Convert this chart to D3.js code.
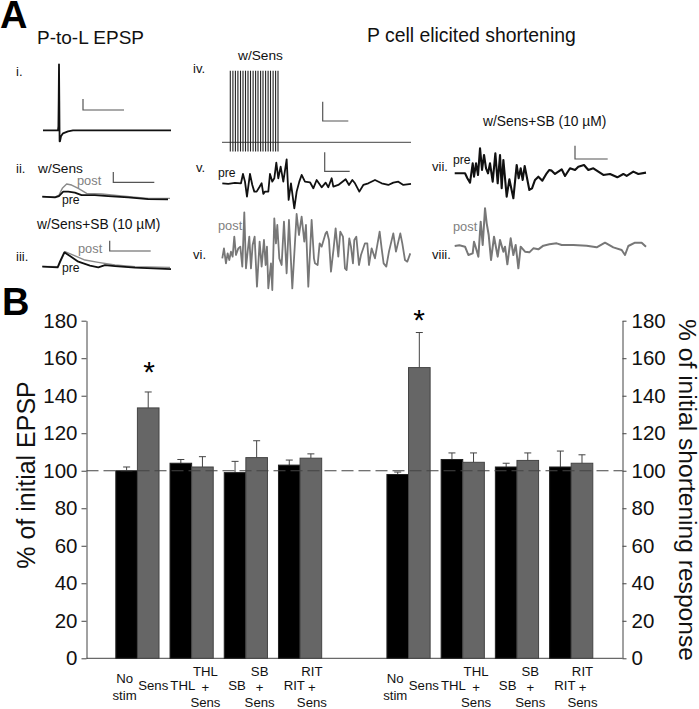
<!DOCTYPE html>
<html><head><meta charset="utf-8">
<script src="https://cdnjs.cloudflare.com/ajax/libs/d3/7.8.5/d3.min.js"></script>
<style>html,body{margin:0;background:#fff}svg{display:block}text{font-family:"Liberation Sans",Arial,sans-serif}</style>
</head><body><script>
// ---- Panel B data ----
const categories = ["No stim","Sens","THL","THL + Sens","SB","SB + Sens","RIT","RIT + Sens"];
const epspBlack = [100,104,99,103];
const epspGray = [133.5,102,107,106.7];
const epspBlackTop = [102,106,105,105.7];
const epspGrayTop = [142,107.5,116,109];
const shortBlack = [98,106,102,102];
const shortGray = [155,104.5,105.5,104];
const shortBlackTop = [99.3,109.5,104,110.5];
const shortGrayTop = [173.7,109.5,109.5,108.5];
const yTicks = [0,20,40,60,80,100,120,140,160,180];
const slots = ["a0","a1","a2","a3","gap","b0","b1","b2","b3"];

// ---- Panel A traces: [time, amplitude] in arbitrary units ----
const traceI = [[0,0],[15,0],[15.4,4],[15.7,30],[16,66],[16.3,30],[16.6,-11],[17,-11],[18,-6],[20,-3],[25,-1],[30,0],[128,0]];
const traceIIpre = [[22,0],[60,-2],[72,2],[85,15],[100,15],[120,12],[140,5],[180,5],[220,2],[280,-2],[340,-7],[400,-8]];
const traceIIpost = [[22,0],[60,-1],[72,5],[82,25],[95,38],[110,35],[130,25],[155,10],[200,8],[260,2],[340,-5],[405,-5]];
const traceIIIpre = [[22,0],[68,-2],[75,15],[88,43],[105,32],[130,15],[165,3],[190,-2],[210,5],[240,2],[300,-3],[408,-7]];
const traceIIIpost = [[22,1],[70,0],[90,45],[115,35],[150,20],[190,13],[240,5],[300,0],[405,-2]];
const spikeTimes = [0,2.6,5.1,7.6,10.2,12.7,15.2,17.7,20.2,22.8,25.3,27.7,30.3,32.7,35.3,37.8,40.2,42.8,45.3,47.7];
const traceV = [[22,0],[40,-2],[60,1],[78,0],[84,28],[90,5],[96,-40],[105,28],[112,-5],[118,-25],[125,-25],[133,-12],[140,0],[145,-32],[150,-25],[160,-25],[165,28],[172,5],[178,15],[184,62],[190,15],[197,50],[205,5],[215,72],[221,-50],[228,0],[238,-75],[245,-25],[253,5],[260,25],[270,5],[285,3],[295,-15],[305,10],[320,-12],[332,2],[340,-12],[350,15],[355,-10],[370,-5],[392,12],[402,-5],[412,10],[420,0],[433,-25],[445,-5],[460,0],[480,10],[500,0],[520,-5],[535,2],[550,5],[565,-5],[588,-2]];
const traceVI = [[22,-10],[27,20],[33,-25],[38,5],[43,-15],[48,10],[53,-5],[58,55],[63,0],[70,20],[76,25],[82,-35],[88,128],[93,-40],[98,10],[103,55],[108,-40],[113,30],[119,55],[126,-95],[134,40],[140,-35],[147,45],[152,-30],[156,25],[160,-100],[168,-25],[172,-105],[178,110],[183,35],[187,90],[193,-10],[200,-30],[207,100],[215,-55],[222,105],[232,-100],[245,123],[252,60],[260,115],[268,40],[273,90],[280,-95],[290,105],[297,-10],[300,-25],[308,-30],[314,35],[320,25],[326,45],[332,65],[336,70],[342,45],[348,-50],[356,20],[362,80],[370,-5],[376,70],[384,55],[390,-40],[395,-45],[403,50],[408,25],[414,-25],[418,45],[424,55],[432,-30],[438,0],[450,35],[457,35],[462,-30],[470,20],[480,-10],[494,70],[500,20],[506,-25],[514,-35],[522,10],[535,65],[543,10],[556,65],[562,35],[570,-15],[577,-20],[586,5]];
const traceVII = [[14,0],[45,0],[52,-15],[60,-28],[68,30],[72,-10],[78,30],[84,-5],[90,75],[96,10],[102,55],[108,15],[114,0],[120,30],[128,-25],[136,60],[143,-30],[150,55],[155,-45],[160,40],[170,-70],[178,-18],[190,-75],[200,25],[206,-15],[212,15],[218,-20],[224,22],[238,-50],[246,-45],[255,-20],[265,-10],[277,-22],[290,0],[298,10],[305,8],[315,-2],[335,12],[345,-8],[360,15],[375,10],[385,20],[402,25],[415,10],[430,15],[445,5],[460,-5],[480,-2],[502,-12],[520,-2],[530,-8],[550,5],[565,-2],[588,2]];
const traceVIII = [[14,0],[28,2],[45,-2],[55,-27],[68,-22],[72,13],[78,-7],[85,-32],[92,73],[98,3],[105,113],[110,68],[116,33],[123,-42],[132,28],[143,-32],[150,18],[160,-17],[165,-2],[172,-55],[182,23],[190,-27],[197,3],[205,-67],[212,-2],[225,-17],[238,-19],[250,-7],[265,-10],[280,1],[298,5],[320,8],[335,3],[370,3],[410,1],[440,-4],[465,10],[490,-4],[515,-12],[525,-27],[535,0],[555,10],[575,10],[588,-2]];

const W=699,H=709;
const svg=d3.select("body").append("svg").attr("width",W).attr("height",H).attr("viewBox",`0 0 ${W} ${H}`);
const sans='"Liberation Sans",Arial,sans-serif';
function label(txt,x,y,size,opt={}){
  return svg.append("text").attr("x",x).attr("y",y).attr("font-size",size).attr("fill",opt.fill||"#111")
    .attr("font-weight",opt.weight||"normal").attr("text-anchor",opt.anchor||"start").text(txt);
}
function trace(data,tDom,xRange,base,color,width,perUnit=1/3){
  const x=d3.scaleLinear().domain(tDom).range(xRange);
  const y=d3.scaleLinear().domain([0,100]).range([base,base-100*perUnit]);
  const line=d3.line().x(d=>x(d[0])).y(d=>y(d[1]));
  svg.append("path").attr("d",line(data)).attr("fill","none").attr("stroke",color)
    .attr("stroke-width",width).attr("stroke-linejoin","round");
}
function scaleBar(x,y0,y1,x1){
  svg.append("path").attr("d",d3.line()([[x,y0],[x,y1],[x1,y1]])).attr("fill","none").attr("stroke","#555").attr("stroke-width",1.2);
}

// ---- Panel letters and titles ----
label("A",0,28,38,{weight:"bold",fill:"#000"});
label("B",2,315,38,{weight:"bold",fill:"#000"});
label("P-to-L EPSP",37,44,19);
label("P cell elicited shortening",367,42,19.4);
[["i.",16,76],["ii.",16,173],["iii.",16,261],["iv.",193,73],["v.",196,172],["vi.",193,259],["vii.",432,171],["viii.",432,259]]
  .forEach(d=>label(d[0],d[1],d[2],13));
label("w/Sens",38,173,13.7);
label("w/Sens",238,60,13.7);
label("w/Sens+SB (10 µM)",37,229,13.8);
label("w/Sens+SB (10 µM)",483,126,13.8);
[["post",77,185,"#808080"],["pre",62,204,"#111"],["post",78,253,"#808080"],["pre",62,272,"#111"],
 ["pre",218,177,"#111"],["post",218,230,"#808080"],["pre",453,164,"#111"],["post",453,231,"#808080"]]
 .forEach(d=>label(d[0],d[1],d[2],d[0]==="post"?12.8:12.2,{fill:d[3]}));

// ---- Panel A traces ----
trace(traceI,[0,128],[43,171],130.3,"#111",1.8,1);
trace(traceIIpost,[22,405],[42.3,170],196.7,"#8a8a8a",1.4);
trace(traceIIpre,[22,400],[42.3,168],196.7,"#111",1.8);
trace(traceIIIpost,[22,405],[42.3,170],266.7,"#8a8a8a",1.4);
trace(traceIIIpre,[22,408],[42.3,171],266.7,"#111",1.8);

// spike train iv
const xIV=d3.scaleLinear().domain([0,47.7]).range([230.3,278]);
svg.append("line").attr("x1",222).attr("x2",411).attr("y1",142.3).attr("y2",142.3).attr("stroke","#444").attr("stroke-width",1);
svg.selectAll(".spike").data(spikeTimes).join("line").attr("class","spike")
  .attr("x1",d=>xIV(d)).attr("x2",d=>xIV(d)).attr("y1",70.7).attr("y2",151.5).attr("stroke","#222").attr("stroke-width",1.1);

trace(traceV,[22,588],[222.3,411],183.3,"#111",1.8);
trace(traceVI,[22,586],[222.3,410.3],255,"#777",1.8);
trace(traceVII,[14,588],[454.7,646],173.3,"#111",2.1);
trace(traceVIII,[14,588],[454.7,646],246,"#777",2);

scaleBar(83,99,110,124);
scaleBar(113.3,172,182.3,154.3);
scaleBar(109.7,240.7,251,150.7);
scaleBar(322.7,101.7,121,348.3);
scaleBar(324.7,152.3,171.3,349.7);
scaleBar(575,145.7,159,607.7);

// ---- Panel B ----
const axL=86.5,axR=622.5,y0=658.3,y1=320.7;
const y=d3.scaleLinear().domain([0,180]).range([y0,y1]);
const xBand=d3.scaleBand().domain(slots).range([110.3,598.3]);
const barW=21.6;
function axisStyle(g){
  g.selectAll("path,line").attr("stroke","#444").attr("stroke-width",1);
  g.selectAll("text").attr("font-size",20.5).attr("fill","#111").attr("font-family",sans);
}
svg.append("g").attr("transform",`translate(${axL},0)`).call(d3.axisLeft(y).tickValues(yTicks).tickSize(5).tickSizeOuter(0).tickPadding(4)).call(axisStyle);
svg.append("g").attr("transform",`translate(${axR},0)`).call(d3.axisRight(y).tickValues(yTicks).tickSize(4).tickSizeOuter(0).tickPadding(5)).call(axisStyle);
svg.append("line").attr("x1",axL).attr("x2",axR).attr("y1",y0).attr("y2",y0).attr("stroke","#444");

function bars(keys,black,gray,blackTop,grayTop){
  keys.forEach((k,i)=>{
    const c=xBand(k)+xBand.bandwidth()/2;
    [[c-barW,black[i],blackTop[i],"#000","#222"],[c,gray[i],grayTop[i],"#666","#444"]].forEach(b=>{
      const cx=b[0]+barW/2;
      svg.append("line").attr("x1",cx).attr("x2",cx).attr("y1",y(b[1])).attr("y2",y(b[2])).attr("stroke","#444");
      svg.append("line").attr("x1",cx-3.5).attr("x2",cx+3.5).attr("y1",y(b[2])).attr("y2",y(b[2])).attr("stroke","#444");
      svg.append("rect").attr("x",b[0]).attr("y",y(b[1])).attr("width",barW).attr("height",y0-y(b[1]))
        .attr("fill",b[3]).attr("stroke",b[4]).attr("stroke-width",1);
    });
  });
}
bars(["a0","a1","a2","a3"],epspBlack,epspGray,epspBlackTop,epspGrayTop);
bars(["b0","b1","b2","b3"],shortBlack,shortGray,shortBlackTop,shortGrayTop);

// reference line at 100
svg.append("line").attr("x1",axL).attr("x2",axR).attr("y1",y(100)).attr("y2",y(100))
  .attr("stroke","#444").attr("stroke-width",1.1).attr("stroke-dasharray","12 5");

// asterisks
label("*",149,382,30,{anchor:"middle",fill:"#000"});
label("*",419,330,30,{anchor:"middle",fill:"#000"});

// category labels
const dx=[-2,5,2,3,2,3,5,1];
["a","b"].forEach((s,gi)=>{
  categories.forEach((cat,i)=>{
    const g=Math.floor(i/2), c=xBand(s+g)+xBand.bandwidth()/2, cx=c+(i%2?barW/2:-barW/2)+dx[i]-(gi?0.5:0);
    const parts=cat.split(" ");
    if(parts.length===1) label(cat,cx,690,13.2,{anchor:"middle"});
    else if(parts.length===2){ label(parts[0],cx,683,13.2,{anchor:"middle"}); label(parts[1],cx,700,13.2,{anchor:"middle"}); }
    else parts.forEach((p,j)=>label(p,cx,676+j*15.5,13.2,{anchor:"middle"}));
  });
});

// axis titles
svg.append("text").attr("transform","translate(35,475) rotate(-90)").attr("text-anchor","middle").attr("font-size",25).attr("fill","#111").text("% of initial EPSP");
svg.append("text").attr("transform","translate(679,490) rotate(90)").attr("text-anchor","middle").attr("font-size",24.6).attr("fill","#111").text("% of initial shortening response");
</script></body></html>
